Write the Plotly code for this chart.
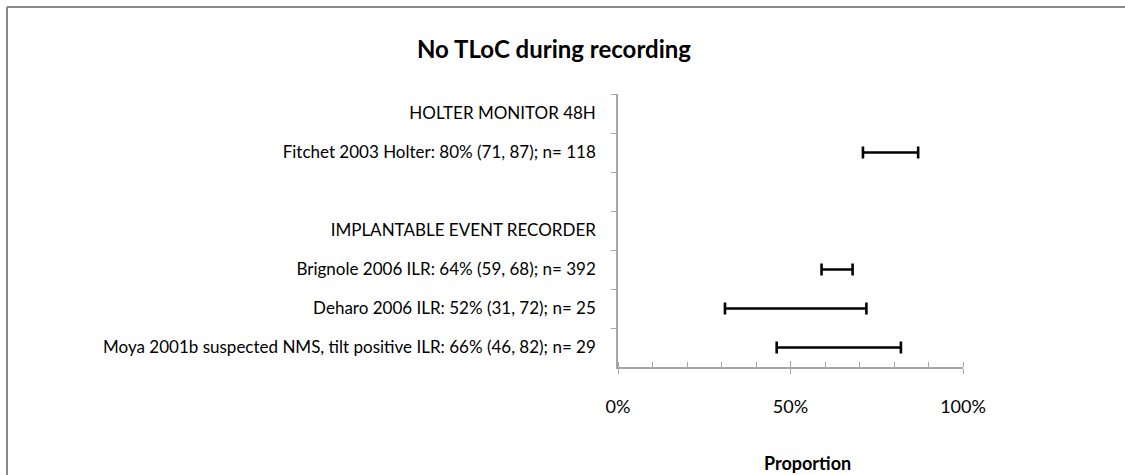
import plotly.graph_objects as go

# Row labels, top to bottom (blank row separates the device groups)
rows = [
    "HOLTER MONITOR 48H",
    "Fitchet 2003 Holter: 80% (71, 87); n= 118",
    " ",
    "IMPLANTABLE EVENT RECORDER",
    "Brignole 2006 ILR: 64% (59, 68); n= 392",
    "Deharo 2006 ILR: 52% (31, 72); n= 25",
    "Moya 2001b suspected NMS, tilt positive ILR: 66% (46, 82); n= 29",
]

# Study estimates with 95% confidence limits (percent)
studies = [
    "Fitchet 2003 Holter: 80% (71, 87); n= 118",
    "Brignole 2006 ILR: 64% (59, 68); n= 392",
    "Deharo 2006 ILR: 52% (31, 72); n= 25",
    "Moya 2001b suspected NMS, tilt positive ILR: 66% (46, 82); n= 29",
]
estimate = [80, 64, 52, 66]
lower = [71, 59, 31, 46]
upper = [87, 68, 72, 82]

x_ticks = [0, 50, 100]
x_tick_text = ["0%", "50%", "100%"]

FONT = "Lato, Carlito, Calibri, sans-serif"
AXIS_GREY = "#a6a6a6"
FRAME_GREY = "#888888"

fig = go.Figure()
fig.add_trace(go.Scatter(
    x=estimate,
    y=studies,
    mode="markers",
    marker=dict(size=1, color="rgba(0,0,0,0)"),
    error_x=dict(
        type="data",
        symmetric=False,
        array=[u - e for u, e in zip(upper, estimate)],
        arrayminus=[e - l for e, l in zip(estimate, lower)],
        color="black",
        thickness=2.6,
        width=6,
    ),
    hoverinfo="skip",
    showlegend=False,
))
# Helper trace so the overlay axis (inner half of the major ticks) is drawn
fig.add_trace(go.Scatter(x=[None], y=[None], xaxis="x2", showlegend=False,
                         hoverinfo="skip"))

L, R, T, B = 618, 162, 94, 108
W, H = 1125, 475
pw, ph = W - L - R, H - T - B


def px(x):
    return (x - L) / pw


def py(y):
    return (H - B - y) / ph


fig.update_layout(
    width=W,
    height=H,
    margin=dict(l=L, r=R, t=T, b=B),
    paper_bgcolor="white",
    plot_bgcolor="white",
    font=dict(family=FONT, color="black"),
    xaxis=dict(
        range=[0, 100],
        tickvals=x_ticks,
        ticktext=x_tick_text,
        ticks="outside",
        ticklen=5,
        tickcolor=AXIS_GREY,
        tickwidth=1,
        minor=dict(dtick=10, ticks="inside", ticklen=5, tickcolor=AXIS_GREY),
        showline=True,
        linecolor=AXIS_GREY,
        linewidth=1.5,
        showgrid=False,
        zeroline=False,
        tickfont=dict(size=18, family=FONT),
        ticklabelstandoff=18,
        fixedrange=True,
    ),
    xaxis2=dict(
        range=[0, 100],
        overlaying="x",
        anchor="y",
        side="bottom",
        tickvals=x_ticks,
        ticks="inside",
        ticklen=6,
        tickcolor=AXIS_GREY,
        showticklabels=False,
        showline=False,
        showgrid=False,
        zeroline=False,
    ),
    yaxis=dict(
        type="category",
        categoryorder="array",
        categoryarray=rows,
        range=[len(rows) - 0.5, -0.5],
        tickson="boundaries",
        ticks="outside",
        ticklen=5,
        tickcolor=AXIS_GREY,
        showline=True,
        linecolor=AXIS_GREY,
        linewidth=1.5,
        showgrid=False,
        zeroline=False,
        tickfont=dict(size=17, family=FONT),
        ticklabelstandoff=17,
        fixedrange=True,
    ),
    annotations=[
        dict(text="<b>No TLoC during recording</b>", xref="paper", yref="paper",
             x=px(554), y=py(49), xanchor="center", yanchor="middle",
             showarrow=False, font=dict(size=24, family=FONT, color="black")),
        dict(text="<b>Proportion</b>", xref="paper", yref="paper",
             x=px(807), y=py(463), xanchor="center", yanchor="middle",
             showarrow=False, font=dict(size=18, family=FONT, color="black")),
    ],
    shapes=[
        # chart-area frame: left edge
        dict(type="line", xref="paper", yref="paper",
             x0=px(7), x1=px(7), y0=py(H), y1=py(7),
             line=dict(color=FRAME_GREY, width=2), layer="below"),
        # chart-area frame: top edge
        dict(type="line", xref="paper", yref="paper",
             x0=px(7), x1=px(W), y0=py(7), y1=py(7),
             line=dict(color=FRAME_GREY, width=2), layer="below"),
    ],
)

fig.write_html("out.html")
